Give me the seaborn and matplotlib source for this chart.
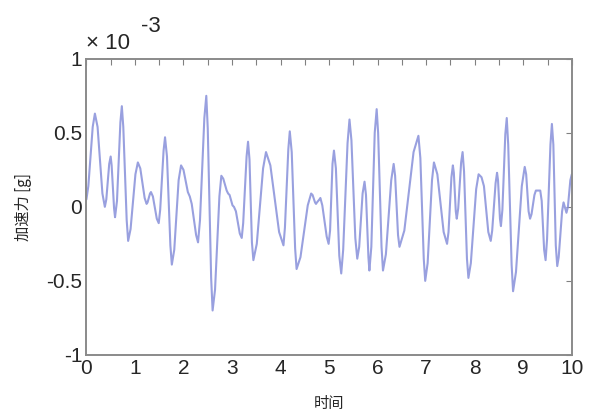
import numpy as np
import pandas as pd
import matplotlib
matplotlib.use("Agg")
import matplotlib.pyplot as plt
import seaborn as sns

# 曲线点 (时间 s, 加速力 x1e-3 g)
t = [0.00, 0.04, 0.13, 0.175, 0.23, 0.33, 0.38, 0.41, 0.47, 0.50, 0.52, 0.57,
     0.59, 0.63, 0.70, 0.73, 0.76, 0.83, 0.86, 0.91, 1.01, 1.06, 1.11, 1.20,
     1.24, 1.26, 1.31, 1.33, 1.37, 1.45, 1.49, 1.52, 1.59, 1.62, 1.66, 1.73,
     1.76, 1.81, 1.90, 1.95, 2.00, 2.09, 2.13, 2.17, 2.26, 2.30, 2.34, 2.43,
     2.47, 2.50, 2.57, 2.60, 2.65, 2.74, 2.78, 2.82, 2.89, 2.92, 2.95, 3.01,
     3.04, 3.08, 3.16, 3.20, 3.23, 3.30, 3.33, 3.36, 3.41, 3.44, 3.51, 3.64,
     3.70, 3.79, 3.97, 4.06, 4.09, 4.16, 4.19, 4.23, 4.30, 4.33, 4.41, 4.56,
     4.63, 4.66, 4.71, 4.73, 4.75, 4.80, 4.82, 4.86, 4.95, 4.99, 5.02, 5.07,
     5.10, 5.14, 5.21, 5.25, 5.29, 5.38, 5.42, 5.46, 5.54, 5.58, 5.62, 5.69,
     5.73, 5.76, 5.81, 5.83, 5.87, 5.94, 5.98, 6.01, 6.08, 6.11, 6.17, 6.28,
     6.33, 6.36, 6.42, 6.45, 6.55, 6.74, 6.84, 6.88, 6.95, 6.98, 7.03, 7.12,
     7.16, 7.23, 7.36, 7.43, 7.46, 7.52, 7.55, 7.57, 7.61, 7.63, 7.66, 7.72,
     7.75, 7.78, 7.84, 7.87, 7.92, 8.03, 8.08, 8.14, 8.19, 8.28, 8.33, 8.36,
     8.43, 8.46, 8.48, 8.52, 8.54, 8.57, 8.63, 8.66, 8.69, 8.76, 8.79, 8.85,
     8.97, 9.03, 9.06, 9.11, 9.14, 9.17, 9.23, 9.26, 9.35, 9.38, 9.43, 9.46,
     9.49, 9.56, 9.59, 9.62, 9.67, 9.70, 9.73, 9.80, 9.83, 9.89, 9.92, 9.97,
     10.0]
acc = [0.05, 0.14, 0.54, 0.63, 0.54, 0.09, 0.00, 0.05, 0.29, 0.34, 0.28, -0.01,
       -0.07, 0.04, 0.57, 0.68, 0.54, -0.09, -0.23, -0.15, 0.22, 0.30, 0.26, 0.06,
       0.02, 0.03, 0.09, 0.10, 0.07, -0.08, -0.11, -0.02, 0.38, 0.47, 0.34, -0.26,
       -0.39, -0.29, 0.18, 0.28, 0.25, 0.10, 0.07, 0.02, -0.19, -0.24, -0.09, 0.60,
       0.75, 0.53, -0.48, -0.70, -0.56, 0.07, 0.21, 0.19, 0.11, 0.09, 0.08, 0.01,
       0.00, -0.03, -0.18, -0.21, -0.11, 0.34, 0.44, 0.32, -0.24, -0.36, -0.25, 0.26,
       0.37, 0.28, -0.17, -0.26, -0.14, 0.39, 0.51, 0.37, -0.28, -0.42, -0.34, 0.01,
       0.09, 0.08, 0.03, 0.02, 0.03, 0.05, 0.06, 0.01, -0.20, -0.25, -0.16, 0.29,
       0.38, 0.26, -0.33, -0.45, -0.29, 0.43, 0.59, 0.45, -0.21, -0.35, -0.27, 0.09,
       0.17, 0.08, -0.34, -0.43, -0.27, 0.50, 0.66, 0.50, -0.27, -0.43, -0.32, 0.18,
       0.29, 0.21, -0.19, -0.27, -0.16, 0.37, 0.48, 0.33, -0.35, -0.50, -0.38, 0.18,
       0.30, 0.22, -0.17, -0.25, -0.17, 0.20, 0.28, 0.23, -0.03, -0.08, -0.01, 0.30,
       0.37, 0.24, -0.35, -0.48, -0.38, 0.12, 0.22, 0.20, 0.14, -0.17, -0.23, -0.16,
       0.16, 0.23, 0.18, -0.08, -0.13, -0.02, 0.49, 0.60, 0.42, -0.39, -0.57, -0.44,
       0.14, 0.27, 0.22, -0.03, -0.08, -0.05, 0.08, 0.11, 0.11, 0.04, -0.29, -0.36,
       -0.22, 0.42, 0.56, 0.42, -0.26, -0.40, -0.34, -0.03, 0.03, -0.04, 0.00, 0.18,
       0.22]

xticks = np.arange(0, 10.01, 0.5)
xlabels = [str(int(v)) if v == int(v) else "" for v in xticks]
yticks = [-1, -0.5, 0, 0.5, 1]
ylabels = ["-1", "-0.5", "0", "0.5", "1"]

df = pd.DataFrame({"时间": t, "加速力": np.array(acc) * 1e-3})

sns.set_style("white")
plt.rcParams['font.family'] = ['Liberation Sans', 'Noto Sans CJK SC', 'DejaVu Sans']

fig = plt.figure(figsize=(6, 4.2), dpi=100)
ax = fig.add_axes([0.144, 0.155, 0.809, 0.705])

sns.lineplot(data=df, x="时间", y="加速力", ax=ax, color="#8790da",
             linewidth=1.5, alpha=0.85)

ax.set_xlim(0, 10)
ax.set_ylim(-1e-3, 1e-3)
ax.set_xticks(xticks)
ax.set_xticklabels(xlabels, fontsize=15)
ax.set_yticks(np.array(yticks) * 1e-3)
ax.set_yticklabels(ylabels, fontsize=15)
ax.tick_params(direction="in", length=4, width=0.8, color="#808080",
               top=True, right=True, pad=3)

for s in ax.spines.values():
    s.set_color("#8a8a8a")
    s.set_linewidth(1.4)

ax.set_xlabel("时间", fontsize=11, family=['Noto Sans CJK SC', 'DejaVu Sans'], labelpad=12)
ax.set_ylabel("加速力 [g]", fontsize=11, family=['Noto Sans CJK SC', 'DejaVu Sans'], labelpad=10)

# MATLAB风格的 x 10^-3
ax.text(0.0, 1.015, "× 10", transform=ax.transAxes, fontsize=16, ha="left", va="bottom")
ax.text(0.112, 1.075, "-3", transform=ax.transAxes, fontsize=16, ha="left", va="bottom")

plt.savefig("out.png", dpi=100)
